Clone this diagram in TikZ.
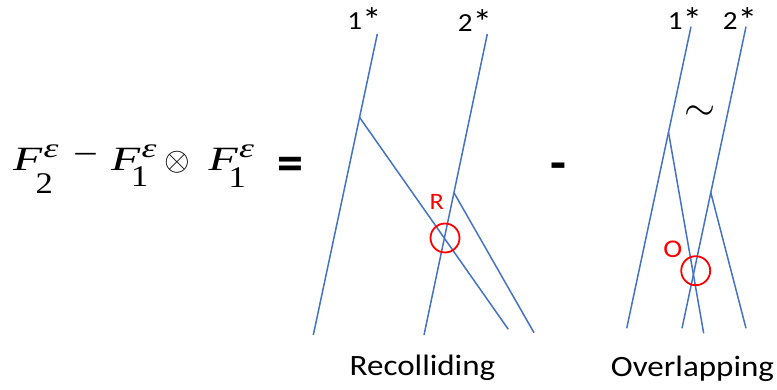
\RequirePackage{fix-cm}
\documentclass[tikz,border=0pt]{standalone}
\usepackage{graphicx}
\usepackage{fontspec}
\usetikzlibrary{calc}
\setmainfont{Carlito}
\newfontfamily\tnr{Liberation Serif}
\newcommand{\bigast}{\raisebox{-3pt}{\scalebox{1.35}{*}}}
\begin{document}
\begin{tikzpicture}[x=1pt,y=-1pt,
  wl/.style={draw=wblue,line width=1.5pt},
  ring/.style={draw=red,line width=1.8pt,circle,minimum size=29pt,inner sep=0pt},
  lab/.style={inner sep=0pt,anchor=base,font=\fontsize{26}{28}\selectfont},
  ttl/.style={inner sep=0pt,anchor=base,font=\fontsize{29.5}{32}\selectfont},
  rlab/.style={inner sep=0pt,anchor=base,text=red},
  bigF/.style={inner sep=0pt,anchor=base west,font=\tnr\itshape\fontsize{34}{36}\selectfont},
  supE/.style={inner sep=0pt,anchor=base west,font=\tnr\itshape\fontsize{27}{29}\selectfont},
  subN/.style={inner sep=0pt,anchor=base west,font=\tnr\fontsize{30}{32}\selectfont}]
\definecolor{wblue}{HTML}{4472C4}
\useasboundingbox (0,0) rectangle (777,390);
% equation
\node[bigF] (F1) at (13,170.3) {\scalebox{1.4}[1]{F}};
\node[subN] (F1s) at (35.5,194) {\scalebox{1.15}[1]{2}};
\node[supE] (F1e) at (43.5,157.7) {\scalebox{1.4}[1]{ε}};
\node[inner sep=0pt,font=\tnr\fontsize{34}{36}\selectfont] (mn) at (85.5,159) {\scalebox{1.3}[1]{−}};
\node[bigF] (F2) at (111,170.3) {\scalebox{1.4}[1]{F}};
\node[subN] (F2s) at (131,187) {\scalebox{1.15}[1]{1}};
\node[supE] (F2e) at (141.5,157.7) {\scalebox{1.4}[1]{ε}};
\node[inner sep=0pt] (ot) at (177.8,161.8) {\fontsize{33}{36}\selectfont$\otimes$};
\node[bigF] (F3) at (208.5,170.3) {\scalebox{1.4}[1]{F}};
\node[subN] (F3s) at (228.5,187.5) {\scalebox{1.15}[1]{1}};
\node[supE] (F3e) at (239,157.7) {\scalebox{1.4}[1]{ε}};
\node[inner sep=0pt,font=\fontsize{52}{56}\selectfont\bfseries] (eqs) at (290,168.5) {=};
\node[inner sep=0pt,font=\fontsize{52}{56}\selectfont\bfseries] (minus) at (558,171.3) {-};
% Recolliding
\coordinate (a1) at (377.3,34);
\coordinate (b1) at (313.3,335);
\coordinate (a2) at (487.3,34);
\coordinate (b2) at (424,335);
\coordinate (p1) at ($(a1)!0.277!(b1)$);
\coordinate (q1) at (508.3,329.3);
\coordinate (p2) at ($(a2)!0.527!(b2)$);
\coordinate (q2) at (534,332.7);
\draw[wl] (a1) -- (b1);
\draw[wl] (a2) -- (b2);
\draw[wl] (p1) -- (q1);
\draw[wl] (p2) -- (q2);
\node[ring] (R) at (445,238) {};
\node[rlab,font=\fontsize{23.5}{26}\selectfont] (Rl) at (436.7,210) {\scalebox{1.12}[1]{R}};
\node[lab] (s1) at (364.5,30) {\scalebox{1.12}[1]{1\bigast}};
\node[lab] (s2) at (475,31.7) {\scalebox{1.12}[1]{2\bigast}};
\node[ttl] (rc) at (422.5,375) {\scalebox{1.12}[1]{Recolliding}};
% Overlapping
\coordinate (c1) at (691,26.7);
\coordinate (d1) at (626.7,328.3);
\coordinate (c2) at (746,26.7);
\coordinate (d2) at (682,328.3);
\coordinate (u1) at ($(c1)!0.35!(d1)$);
\coordinate (v1) at (703.7,333.3);
\coordinate (u2) at ($(c2)!0.55!(d2)$);
\coordinate (v2) at (746,328.3);
\draw[wl] (c1) -- (d1);
\draw[wl] (c2) -- (d2);
\draw[wl] (u1) -- (v1);
\draw[wl] (u2) -- (v2);
\node[ring] (O) at (695.7,270.7) {};
\node[rlab,font=\fontsize{25.5}{28}\selectfont] (Ol) at (672.9,258) {\scalebox{1.12}[1]{O}};
\node[lab] (t1) at (685,29.3) {\scalebox{1.12}[1]{1\bigast}};
\node[lab] (t2) at (740,29.3) {\scalebox{1.12}[1]{2\bigast}};
\node[inner sep=0pt] (sim) at (700,112.7) {\fontsize{40}{44}\selectfont$\sim$};
\node[ttl] (ov) at (692.5,376.5) {\scalebox{1.12}[1]{Overlapping}};
\end{tikzpicture}
\end{document}
